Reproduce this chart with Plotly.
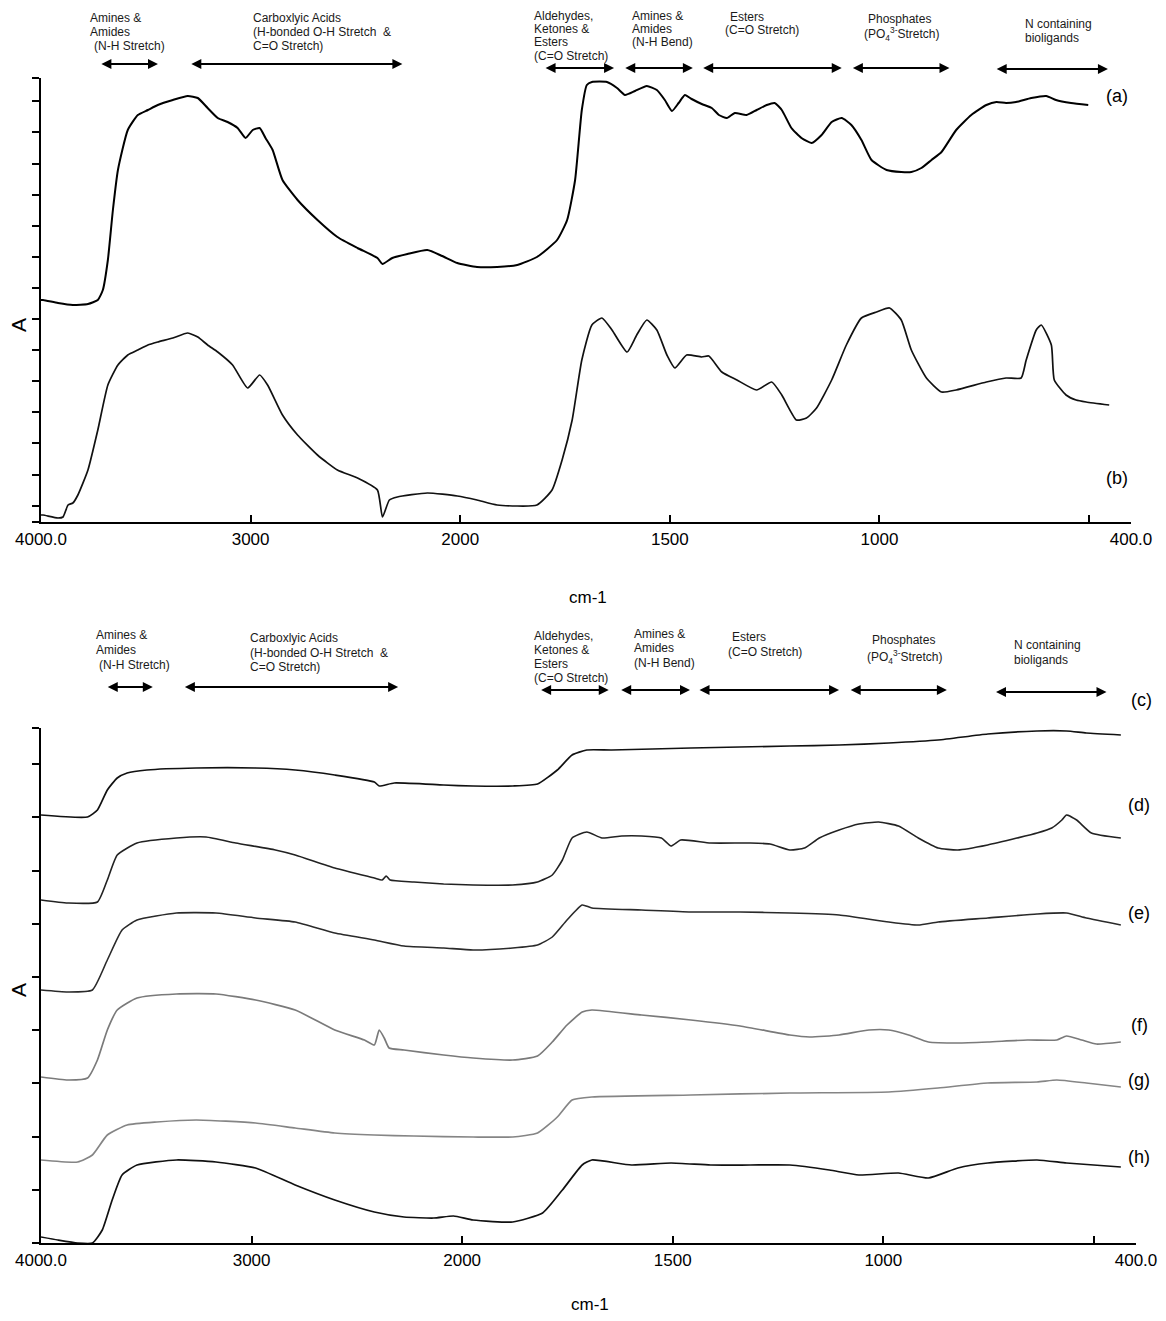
import numpy as np
import plotly.graph_objects as go

W, H = 1150, 1305   # figure size (page body margin of 8px on every side fills the 1166x1321 window)
OFF = 8             # screen = figure + OFF

# ---------------- data (wavenumber cm-1, absorbance in arbitrary units) ----------------
a_wn = [4000, 3990, 3919, 3848, 3776, 3729, 3705, 3681, 3657, 3633, 3586, 3538, 3490, 3443, 3371, 3300, 3252, 3205, 3157, 3110,
        3062, 3024, 2990, 2957, 2929, 2895, 2848, 2776, 2681, 2586, 2490, 2395, 2371, 2324, 2252, 2157, 2086, 2014, 1960, 1912,
        1864, 1817, 1769, 1745, 1726, 1710, 1698, 1686, 1650, 1626, 1607, 1583, 1555, 1531, 1512, 1495, 1479, 1464, 1448, 1424,
        1400, 1383, 1364, 1345, 1317, 1293, 1269, 1250, 1233, 1210, 1186, 1162, 1138, 1114, 1090, 1067, 1043, 1019, 983, 948,
        924, 900, 876, 852, 817, 781, 745, 721, 698, 674, 638, 602, 579, 543, 502]
a_abs = [2.22, 2.22, 2.19, 2.17, 2.18, 2.22, 2.32, 2.62, 3.12, 3.52, 3.92, 4.07, 4.12, 4.17, 4.22, 4.26, 4.24, 4.14, 4.04, 4.00,
         3.94, 3.84, 3.92, 3.94, 3.84, 3.72, 3.42, 3.22, 3.02, 2.85, 2.74, 2.64, 2.58, 2.64, 2.68, 2.72, 2.66, 2.59, 2.55, 2.55,
         2.57, 2.65, 2.82, 3.02, 3.42, 4.12, 4.37, 4.40, 4.40, 4.34, 4.27, 4.31, 4.36, 4.32, 4.22, 4.11, 4.19, 4.27, 4.23, 4.18,
         4.14, 4.07, 4.04, 4.09, 4.07, 4.12, 4.17, 4.19, 4.12, 3.94, 3.84, 3.79, 3.87, 4.00, 4.04, 3.97, 3.82, 3.62, 3.52, 3.50,
         3.50, 3.54, 3.62, 3.70, 3.92, 4.07, 4.17, 4.20, 4.19, 4.20, 4.24, 4.26, 4.22, 4.19, 4.17]

b_wn = [4000, 3990, 3919, 3895, 3871, 3848, 3824, 3776, 3729, 3681, 3633, 3586, 3538, 3490, 3443, 3371, 3300, 3252, 3205, 3157,
        3086, 3014, 2957, 2919, 2848, 2776, 2681, 2586, 2490, 2395, 2371, 2338, 2300, 2157, 2014, 1960, 1912, 1817, 1781, 1757,
        1733, 1710, 1686, 1662, 1638, 1602, 1579, 1555, 1531, 1507, 1488, 1460, 1424, 1407, 1376, 1340, 1293, 1257, 1233, 1198,
        1174, 1150, 1114, 1079, 1043, 1007, 976, 948, 924, 888, 852, 817, 745, 698, 662, 650, 626, 614, 590, 583,
        555, 531, 507, 452]
b_abs = [0.07, 0.07, 0.04, 0.05, 0.17, 0.19, 0.27, 0.52, 0.92, 1.37, 1.57, 1.67, 1.72, 1.77, 1.80, 1.84, 1.89, 1.85, 1.77, 1.70,
         1.57, 1.34, 1.47, 1.37, 1.07, 0.87, 0.67, 0.52, 0.44, 0.32, 0.05, 0.22, 0.25, 0.29, 0.26, 0.22, 0.17, 0.17, 0.32, 0.62,
         1.02, 1.62, 1.97, 2.04, 1.92, 1.70, 1.87, 2.02, 1.92, 1.67, 1.54, 1.67, 1.65, 1.66, 1.50, 1.42, 1.32, 1.40, 1.27, 1.02,
         1.04, 1.14, 1.42, 1.77, 2.04, 2.10, 2.14, 2.02, 1.72, 1.44, 1.30, 1.32, 1.40, 1.44, 1.44, 1.62, 1.92, 1.97, 1.77, 1.42,
         1.27, 1.22, 1.20, 1.17]

c_wn = [4000, 3779, 3732, 3685, 3638, 3591, 3497, 3263, 2981, 2793, 2605, 2417, 2394, 2323, 2088, 1974, 1880, 1821, 1774, 1739,
        1704, 1645, 1457, 1222, 1105, 987, 870, 752, 635, 565, 518, 436]
c_abs = [4.28, 4.26, 4.33, 4.53, 4.65, 4.70, 4.73, 4.75, 4.75, 4.73, 4.68, 4.61, 4.57, 4.60, 4.58, 4.57, 4.57, 4.59, 4.73, 4.88,
         4.93, 4.93, 4.95, 4.97, 4.98, 5.00, 5.03, 5.09, 5.12, 5.12, 5.10, 5.08]

d_wn = [4000, 3873, 3732, 3685, 3638, 3544, 3357, 3216, 3075, 2887, 2793, 2605, 2417, 2380, 2361, 2342, 2229, 2088, 1974, 1880,
        1821, 1786, 1762, 1739, 1704, 1668, 1621, 1574, 1527, 1504, 1481, 1410, 1316, 1269, 1222, 1187, 1152, 1105, 1058, 1011,
        964, 917, 870, 823, 752, 682, 635, 600, 576, 565, 541, 506, 436]
d_abs = [3.43, 3.40, 3.41, 3.63, 3.88, 4.00, 4.05, 4.06, 4.00, 3.93, 3.88, 3.75, 3.65, 3.63, 3.67, 3.63, 3.61, 3.59, 3.58, 3.58,
         3.61, 3.68, 3.83, 4.05, 4.11, 4.05, 4.07, 4.07, 4.05, 3.97, 4.03, 4.00, 4.00, 3.99, 3.93, 3.95, 4.05, 4.13, 4.19, 4.21,
         4.17, 4.05, 3.95, 3.93, 3.98, 4.05, 4.10, 4.15, 4.23, 4.28, 4.23, 4.10, 4.05]

e_wn = [4000, 3873, 3756, 3685, 3615, 3544, 3357, 3169, 2981, 2793, 2605, 2417, 2276, 2088, 1974, 1880, 1821, 1786, 1751, 1715,
        1692, 1574, 1457, 1340, 1222, 1105, 987, 917, 870, 752, 635, 565, 518, 436]
e_abs = [2.53, 2.51, 2.53, 2.83, 3.13, 3.23, 3.30, 3.30, 3.25, 3.21, 3.10, 3.03, 2.97, 2.95, 2.93, 2.95, 2.98, 3.06, 3.23, 3.38,
         3.35, 3.33, 3.31, 3.31, 3.30, 3.28, 3.21, 3.18, 3.21, 3.25, 3.29, 3.30, 3.25, 3.18]

f_wn = [4000, 3873, 3779, 3732, 3685, 3638, 3544, 3357, 3169, 2981, 2793, 2605, 2464, 2417, 2394, 2370, 2347, 2276, 2088, 1974,
        1880, 1821, 1786, 1751, 1715, 1692, 1574, 1457, 1340, 1222, 1175, 1105, 1034, 987, 940, 893, 823, 752, 658, 588,
        565, 529, 494, 436]
f_abs = [1.66, 1.63, 1.65, 1.83, 2.13, 2.33, 2.45, 2.49, 2.49, 2.43, 2.33, 2.13, 2.03, 1.98, 2.13, 2.05, 1.95, 1.93, 1.88, 1.85,
         1.83, 1.87, 2.01, 2.18, 2.31, 2.33, 2.28, 2.23, 2.17, 2.08, 2.06, 2.08, 2.13, 2.13, 2.08, 2.01, 2.00, 2.01, 2.03, 2.03,
         2.07, 2.03, 1.99, 2.01]

g_wn = [4000, 3826, 3756, 3685, 3591, 3450, 3263, 2981, 2793, 2605, 2417, 2229, 1974, 1880, 1821, 1774, 1739, 1692, 1457, 1222,
        987, 870, 752, 635, 588, 518, 436]
g_abs = [0.83, 0.81, 0.88, 1.08, 1.18, 1.21, 1.23, 1.20, 1.15, 1.10, 1.08, 1.07, 1.06, 1.06, 1.10, 1.26, 1.43, 1.46, 1.48, 1.50,
         1.51, 1.55, 1.60, 1.61, 1.63, 1.60, 1.56]

h_wn = [4000, 3920, 3826, 3756, 3709, 3662, 3615, 3544, 3357, 3169, 2981, 2793, 2605, 2417, 2276, 2135, 2041, 1974, 1880, 1809,
        1762, 1715, 1692, 1598, 1504, 1410, 1316, 1222, 1128, 1058, 964, 893, 823, 752, 635, 565, 436]
h_abs = [0.06, 0.03, 0.00, 0.00, 0.13, 0.43, 0.68, 0.78, 0.83, 0.81, 0.75, 0.58, 0.43, 0.31, 0.26, 0.25, 0.27, 0.23, 0.21, 0.30,
         0.53, 0.78, 0.83, 0.78, 0.80, 0.78, 0.78, 0.78, 0.73, 0.68, 0.70, 0.65, 0.75, 0.80, 0.83, 0.80, 0.76]

# x-axis tick wavenumbers and labels
tick_wn = [4000, 3000, 2000, 1500, 1000, 500, 400]
tick_text = ["4000.0", "3000", "2000", "1500", "1000", " ", "400.0"]

# band assignments (cm-1 ranges of the double arrows)
band_hi_top = [3719, 3290, 1800, 1610, 1424, 1067, 724]
band_lo_top = [3442, 2276, 1633, 1445, 1090, 833, 455]
band_hi_bot = [3690, 3324, 1816, 1626, 1440, 1081, 736]
band_lo_bot = [3469, 2304, 1652, 1459, 1105, 849, 470]

PO4 = "(PO<sub>4</sub><sup>3-</sup>Stretch)"
# band label lines: (text, left x, centre y) in page pixels
top_lines = [
    ("Amines &", 88, 18), ("Amides", 88, 32), ("(N-H Stretch)", 92, 46),
    ("Carboxlyic Acids", 251, 18), ("(H-bonded O-H Stretch  &", 251, 32), ("C=O Stretch)", 251, 46),
    ("Aldehydes,", 532, 16), ("Ketones &", 532, 29), ("Esters", 532, 42.5), ("(C=O Stretch)", 532, 56),
    ("Amines &", 630, 16), ("Amides", 630, 29), ("(N-H Bend)", 630, 42),
    ("Esters", 728, 17), ("(C=O Stretch)", 723, 30),
    ("Phosphates", 866, 19), (PO4, 862, 34),
    ("N containing", 1023, 24), ("bioligands", 1023, 38),
]
bot_lines = [
    ("Amines &", 94, 635), ("Amides", 94, 650), ("(N-H Stretch)", 97, 665),
    ("Carboxlyic Acids", 248, 638), ("(H-bonded O-H Stretch  &", 248, 653), ("C=O Stretch)", 248, 667),
    ("Aldehydes,", 532, 636), ("Ketones &", 532, 650), ("Esters", 532, 664), ("(C=O Stretch)", 532, 678),
    ("Amines &", 632, 634), ("Amides", 632, 648), ("(N-H Bend)", 632, 663),
    ("Esters", 730, 637), ("(C=O Stretch)", 726, 652),
    ("Phosphates", 870, 640), (PO4, 865, 657),
    ("N containing", 1012, 645), ("bioligands", 1012, 660),
]

top_names = ["(a)", "(b)"]
bot_names = ["(c)", "(d)", "(e)", "(f)", "(g)", "(h)"]


# ---------------- axis transform (scale doubles below 2000 cm-1) ----------------
def pos(w):
    w = np.asarray(w, dtype=float)
    return np.where(w >= 2000, 4000 - w, 2000 + 2 * (2000 - w))


def P(px, py):
    return (px - OFF) / W, 1 - (py - OFF) / H


FONT = "Liberation Sans, Arial, sans-serif"
fig = go.Figure()

top_series = [(a_wn, a_abs, "#000000", 2.0), (b_wn, b_abs, "#111111", 1.7)]
for wn, ab, col, lw in top_series:
    fig.add_trace(go.Scatter(x=pos(wn), y=ab, mode="lines", xaxis="x", yaxis="y",
                             line=dict(color=col, width=lw, shape="spline", smoothing=0.5),
                             showlegend=False, hoverinfo="skip"))

bot_series = [(c_wn, c_abs, "#111111", 1.7), (d_wn, d_abs, "#222222", 1.6), (e_wn, e_abs, "#2a2a2a", 1.6),
              (f_wn, f_abs, "#7a7a7a", 1.7), (g_wn, g_abs, "#858585", 1.7), (h_wn, h_abs, "#111111", 1.7)]
for wn, ab, col, lw in bot_series:
    fig.add_trace(go.Scatter(x=pos(wn), y=ab, mode="lines", xaxis="x2", yaxis="y2",
                             line=dict(color=col, width=lw, shape="spline", smoothing=0.5),
                             showlegend=False, hoverinfo="skip"))

# plot boxes in page pixels
TOP_X, TOP_Y = (41, 1131), (78, 522)
BOT_X, BOT_Y = (41, 1136), (728, 1243)
top_range = [0, 4.44]
bot_range = [0, 5.15]
top_ticks = [0] + [0.164 + 0.311 * k for k in range(14)] + [4.44]
bot_ticks = [0.532 * k for k in range(10)] + [5.15]


def dom_x(a, b):
    return [(a - OFF) / W, (b - OFF) / W]


def dom_y(top, bottom):
    return [1 - (bottom - OFF) / H, 1 - (top - OFF) / H]


xcommon = dict(range=[0, 5200], tickvals=pos(tick_wn), ticktext=tick_text, ticks="inside", ticklen=7,
               tickwidth=1.5, tickcolor="black", showline=True, linecolor="black", linewidth=2,
               showgrid=False, zeroline=False, ticklabelstandoff=1, automargin=False,
               tickfont=dict(family=FONT, size=17, color="black"))
ycommon = dict(showticklabels=False, ticks="outside", ticklen=7, tickwidth=1.5, tickcolor="black",
               showline=True, linecolor="black", linewidth=2, showgrid=False, zeroline=False,
               automargin=False)

fig.update_layout(
    width=W, height=H, margin=dict(l=0, r=0, t=0, b=0, pad=0, autoexpand=False),
    paper_bgcolor="white", plot_bgcolor="white", showlegend=False,
    font=dict(family=FONT, color="black"),
    xaxis=dict(domain=dom_x(*TOP_X), anchor="y", **xcommon),
    yaxis=dict(domain=dom_y(*TOP_Y), anchor="x", range=top_range, tickvals=top_ticks, **ycommon),
    xaxis2=dict(domain=dom_x(*BOT_X), anchor="y2", **xcommon),
    yaxis2=dict(domain=dom_y(*BOT_Y), anchor="x2", range=bot_range, tickvals=bot_ticks, **ycommon),
)

ann = []
# band arrows
top_arrow_py = [64, 64, 68, 68, 68, 68, 69]
bot_arrow_py = [687, 687, 690, 690, 690, 690, 692]
for hi, lo, py in zip(band_hi_top, band_lo_top, top_arrow_py):
    ann.append(dict(x=float(pos(lo)), y=P(0, py)[1], xref="x", yref="paper", ax=float(pos(hi)), axref="x",
                    ay=0, ayref="pixel", text="", showarrow=True, arrowhead=2, startarrowhead=2,
                    arrowside="end+start", arrowsize=1, startarrowsize=1, arrowwidth=2, arrowcolor="black",
                    standoff=0, startstandoff=0))
for hi, lo, py in zip(band_hi_bot, band_lo_bot, bot_arrow_py):
    ann.append(dict(x=float(pos(lo)), y=P(0, py)[1], xref="x2", yref="paper", ax=float(pos(hi)), axref="x2",
                    ay=0, ayref="pixel", text="", showarrow=True, arrowhead=2, startarrowhead=2,
                    arrowside="end+start", arrowsize=1, startarrowsize=1, arrowwidth=2, arrowcolor="black",
                    standoff=0, startstandoff=0))

# band label lines
for txt, px, py in top_lines + bot_lines:
    x, y = P(px, py)
    ann.append(dict(x=x, y=y, xref="paper", yref="paper", xanchor="left", yanchor="middle", align="left",
                    text=txt, showarrow=False, font=dict(family=FONT, size=12, color="#1a1a1a")))

# series labels
for name, (px, py) in zip(top_names, [(1117, 96), (1117, 478)]):
    x, y = P(px, py)
    ann.append(dict(x=x, y=y, xref="paper", yref="paper", text=name, showarrow=False,
                    xanchor="center", yanchor="middle",
                    font=dict(family=FONT, size=18, color="black")))
for name, (px, py) in zip(bot_names, [(1141, 700), (1139, 805), (1139, 913), (1139, 1025),
                                       (1139, 1080), (1139, 1157)]):
    x, y = P(px, py)
    ann.append(dict(x=x, y=y, xref="paper", yref="paper", text=name, showarrow=False,
                    xanchor="center", yanchor="middle",
                    font=dict(family=FONT, size=18, color="black")))

# axis titles
for (px, py) in [(588, 597), (590, 1304)]:
    x, y = P(px, py)
    ann.append(dict(x=x, y=y, xref="paper", yref="paper", text="cm-1", showarrow=False,
                    xanchor="center", yanchor="middle",
                    font=dict(family=FONT, size=17, color="black")))
for (px, py) in [(18, 325), (18, 990)]:
    x, y = P(px, py)
    ann.append(dict(x=x, y=y, xref="paper", yref="paper", text="A", textangle=-90, showarrow=False,
                    xanchor="center", yanchor="middle",
                    font=dict(family=FONT, size=21, color="black")))

fig.update_layout(annotations=ann)
fig.write_html("out.html")
